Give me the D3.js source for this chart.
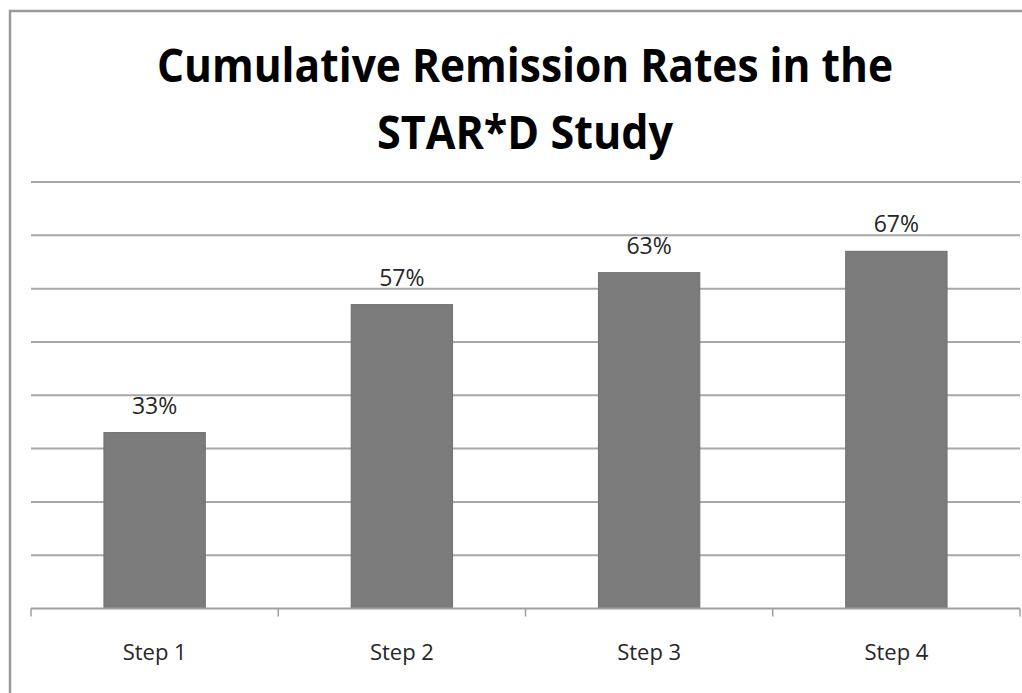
<!DOCTYPE html>
<html>
<head>
<meta charset="utf-8">
<script src="https://cdn.jsdelivr.net/npm/d3@7"></script>
<style>
  html, body { margin: 0; padding: 0; background: #fff; }
  svg { display: block; }
</style>
</head>
<body>
<svg id="chart" width="1022" height="693"></svg>
<script>
// Chart data
const categories = ["Step 1", "Step 2", "Step 3", "Step 4"];
const remission = [33, 57, 63, 67];
const titleLines = ["Cumulative Remission Rates in the", "STAR*D Study"];
const gridValues = [10, 20, 30, 40, 50, 60, 70, 80];

const svg = d3.select("#chart");
const W = 1022, H = 693;

// Frame
svg.append("path")
  .attr("d", `M10,${H} L10,11 L${W},11`)
  .attr("fill", "none")
  .attr("stroke", "#9a9a9a")
  .attr("stroke-width", 2.5);

// Title
const titleSpecs = [
  { y: 82, len: 736 },
  { y: 149, len: 296 }
];
titleLines.forEach((t, i) => {
  svg.append("text")
    .attr("x", 525)
    .attr("y", titleSpecs[i].y)
    .attr("text-anchor", "middle")
    .attr("font-family", "'Open Sans', sans-serif")
    .attr("font-weight", 700)
    .attr("font-size", 46)
    .attr("fill", "#000")
    .attr("textLength", titleSpecs[i].len)
    .attr("lengthAdjust", "spacingAndGlyphs")
    .text(t);
});

// Scales
const left = 31, right = 1020, baseY = 608.5, topY = 182;
const x = d3.scaleBand().domain(categories).range([left, right]).padding(0);
const y = d3.scaleLinear().domain([0, 80]).range([baseY, topY]);

// Horizontal gridlines
svg.append("g")
  .selectAll("line")
  .data(gridValues)
  .join("line")
  .attr("x1", left)
  .attr("x2", right)
  .attr("y1", d => y(d))
  .attr("y2", d => y(d))
  .attr("stroke", "#a8a8a8")
  .attr("stroke-width", 2);

// Bars
const barW = x.bandwidth() * 0.41;
svg.append("g")
  .selectAll("rect")
  .data(remission)
  .join("rect")
  .attr("x", (d, i) => x(categories[i]) + x.bandwidth() / 2 - barW / 2)
  .attr("y", d => y(d))
  .attr("width", barW)
  .attr("height", d => y(0) - y(d))
  .attr("fill", "#7b7b7b")
  .attr("stroke", "#707070")
  .attr("stroke-width", 1);

// Value labels
svg.append("g")
  .selectAll("text")
  .data(remission)
  .join("text")
  .attr("x", (d, i) => x(categories[i]) + x.bandwidth() / 2)
  .attr("y", d => y(d) - 19)
  .attr("text-anchor", "middle")
  .attr("font-family", "'Open Sans', sans-serif")
  .attr("font-size", 23)
  .attr("fill", "#262626")
  .text(d => d + "%");

// Category axis
const xAxis = d3.axisBottom(x).tickSize(0);
const gx = svg.append("g")
  .attr("transform", `translate(0,${baseY})`)
  .call(xAxis);
gx.select(".domain").remove();
gx.selectAll(".tick text")
  .attr("font-family", "'Open Sans', sans-serif")
  .attr("font-size", 22)
  .attr("fill", "#262626")
  .attr("dy", "0")
  .attr("y", 51);

svg.append("line")
  .attr("x1", left).attr("x2", right)
  .attr("y1", baseY).attr("y2", baseY)
  .attr("stroke", "#a0a0a0")
  .attr("stroke-width", 2);

// Tick marks at band edges
const edges = categories.map(c => x(c)).concat([x(categories[categories.length - 1]) + x.bandwidth()]);
svg.append("g")
  .selectAll("line")
  .data(edges)
  .join("line")
  .attr("x1", d => d).attr("x2", d => d)
  .attr("y1", baseY).attr("y2", baseY + 8)
  .attr("stroke", "#a0a0a0")
  .attr("stroke-width", 1.5);
</script>
</body>
</html>
